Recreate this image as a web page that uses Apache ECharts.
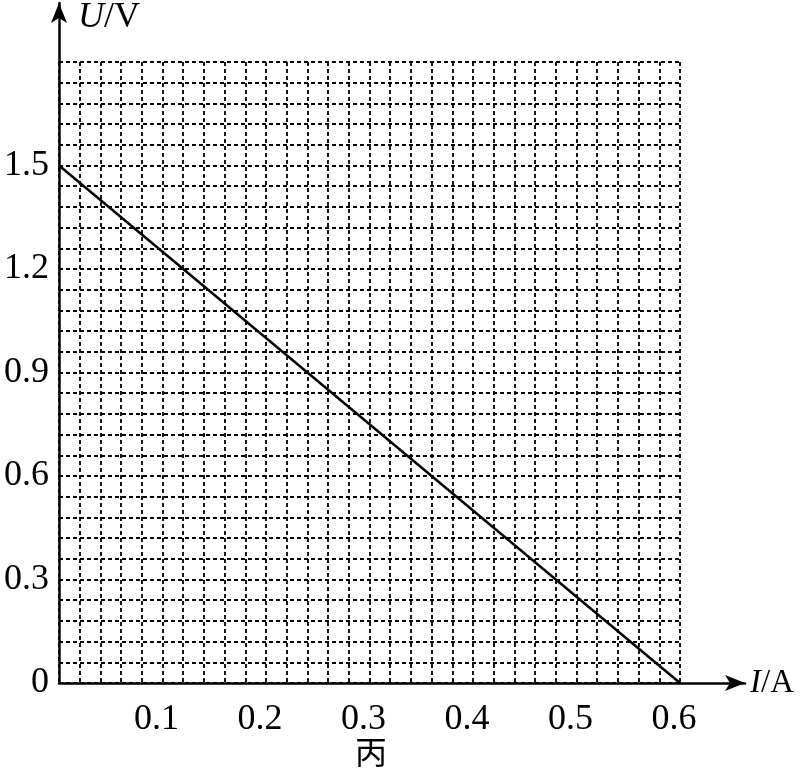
<!DOCTYPE html>
<html>
<head>
<meta charset="utf-8">
<script src="https://cdn.jsdelivr.net/npm/echarts@6/dist/echarts.min.js"></script>
<style>
html, body { margin: 0; padding: 0; background: #fff; }
#chart { width: 800px; height: 772px; }
</style>
</head>
<body>
<div id="chart"></div>
<script>
// I-U 图线数据
var current = [0, 0.6];      // I/A
var voltage = [1.5, 0];      // U/V
var xTicks = [0.1, 0.2, 0.3, 0.4, 0.5, 0.6];
var yTicks = [0, 0.3, 0.6, 0.9, 1.2, 1.5];

var serif = "'Liberation Serif', 'DejaVu Serif', serif";

function hasTick(list, v) {
    for (var i = 0; i < list.length; i++) {
        if (Math.abs(list[i] - v) < 1e-6) return true;
    }
    return false;
}

var chart = echarts.init(document.getElementById("chart"));

var option = {
    backgroundColor: "#fff",
    animation: false,
    grid: [
        { left: 59, top: 62, width: 621, height: 621 },
        // 只用来画带箭头的坐标轴
        { left: 59, top: 3, width: 686, height: 680 },
    ],
    xAxis: [
        {
            type: "value",
            gridIndex: 0,
            min: 0,
            max: 0.6,
            interval: 0.02,
            axisLine: { show: false },
            axisTick: { show: false },
            axisLabel: {
                margin: 19,
                color: "#000",
                fontFamily: serif,
                fontSize: 36,
                padding: [0, 12, 0, 0],
                formatter: function (v) {
                    return hasTick(xTicks, v) ? v.toFixed(1) : "";
                },
            },
            splitLine: {
                show: true,
                lineStyle: { color: "#000", width: 1.8, type: [4, 3] },
            },
        },
        {
            type: "value",
            gridIndex: 1,
            min: 0,
            max: 1,
            axisLine: {
                show: true,
                symbol: ["none", "arrow"],
                symbolSize: [12, 20],
                lineStyle: { color: "#000", width: 2.5 },
            },
            axisTick: { show: false },
            axisLabel: { show: false },
            splitLine: { show: false },
        },
    ],
    yAxis: [
        {
            type: "value",
            gridIndex: 0,
            min: 0,
            max: 1.8,
            interval: 0.06,
            axisLine: { show: false },
            axisTick: { show: false },
            axisLabel: {
                margin: 10,
                color: "#000",
                fontFamily: serif,
                fontSize: 36,
                padding: [4, 0, 0, 0],
                formatter: function (v) {
                    if (!hasTick(yTicks, v)) return "";
                    return v === 0 ? "0" : v.toFixed(1);
                },
            },
            splitLine: {
                show: true,
                lineStyle: { color: "#000", width: 1.8, type: [4, 3] },
            },
        },
        {
            type: "value",
            gridIndex: 1,
            min: 0,
            max: 1,
            axisLine: {
                show: true,
                symbol: ["none", "arrow"],
                symbolSize: [12, 20],
                lineStyle: { color: "#000", width: 2.5 },
            },
            axisTick: { show: false },
            axisLabel: { show: false },
            splitLine: { show: false },
        },
    ],
    series: [
        {
            type: "line",
            xAxisIndex: 0,
            yAxisIndex: 0,
            data: current.map(function (c, i) { return [c, voltage[i]]; }),
            showSymbol: false,
            lineStyle: { color: "#000", width: 2.5 },
        },
    ],
    graphic: [
        {
            type: "text",
            left: 78,
            top: 0,
            style: {
                text: "{i|U}/V",
                rich: {
                    i: { fontStyle: "italic", fontFamily: serif, fontSize: 36, fill: "#000" },
                },
                font: "36px " + serif,
                fill: "#000",
            },
        },
        {
            type: "text",
            left: 750,
            top: 667,
            style: {
                text: "{i|I}/A",
                rich: {
                    i: { fontStyle: "italic", fontFamily: serif, fontSize: 33, fill: "#000" },
                },
                font: "33px " + serif,
                fill: "#000",
            },
        },
        {
            type: "text",
            left: 355,
            top: 736,
            style: {
                text: "丙",
                font: "32px 'Noto Sans CJK SC'",
                fill: "#000",
            },
        },
    ],
};

chart.setOption(option);
</script>
</body>
</html>
